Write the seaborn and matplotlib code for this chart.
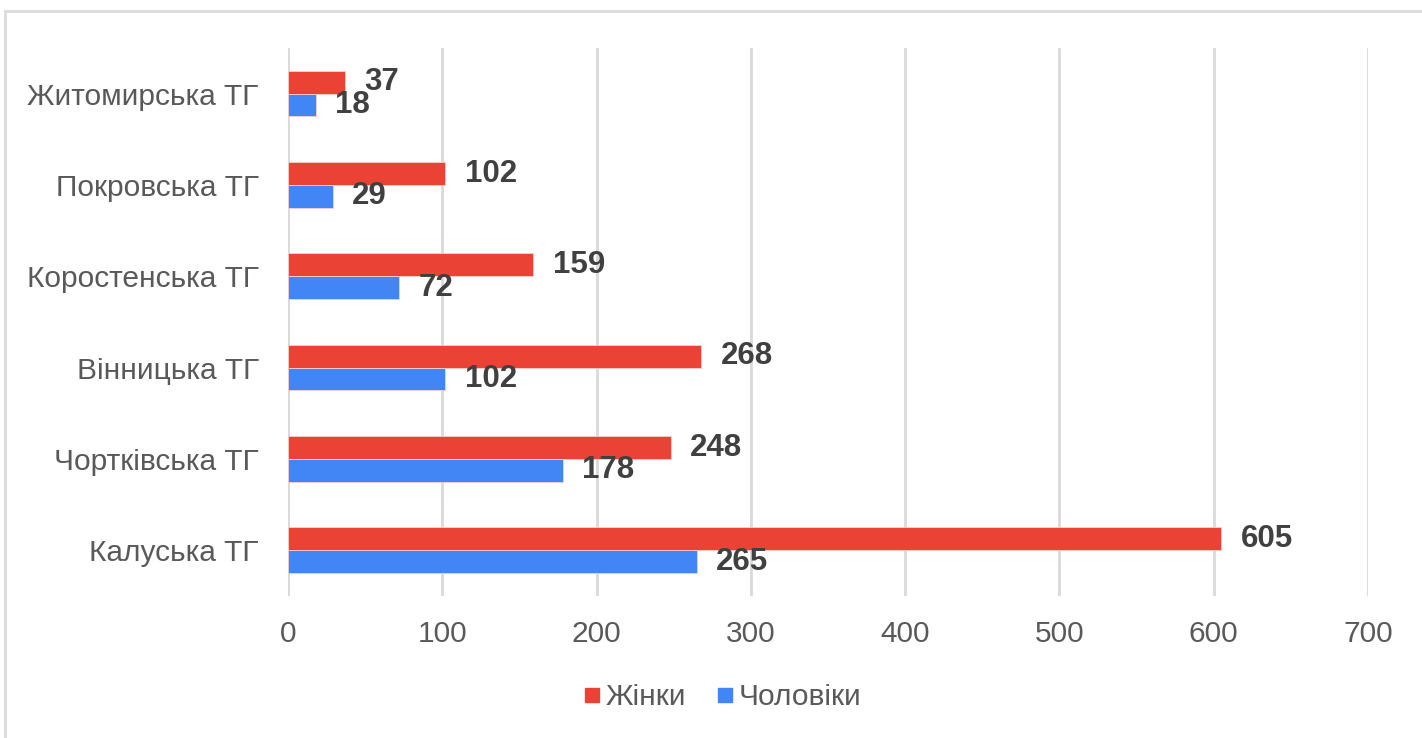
import matplotlib
matplotlib.use("Agg")
import matplotlib.pyplot as plt
import seaborn as sns
import pandas as pd
from matplotlib.lines import Line2D

categories = ["Житомирська ТГ", "Покровська ТГ", "Коростенська ТГ",
              "Вінницька ТГ", "Чортківська ТГ", "Калуська ТГ"]
women = [37, 102, 159, 268, 248, 605]
men = [18, 29, 72, 102, 178, 265]
series_names = ["Жінки", "Чоловіки"]
colors = ["#EA4335", "#4285F4"]
xticks = [0, 100, 200, 300, 400, 500, 600, 700]

df = pd.DataFrame({
    "category": categories * 2,
    "value": women + men,
    "series": [series_names[0]] * len(categories) + [series_names[1]] * len(categories),
})

sns.set_theme(style="white")
plt.rcParams["font.family"] = ["Liberation Sans", "DejaVu Sans"]

fig = plt.figure(figsize=(14.22, 7.38), dpi=100)
ax = fig.add_axes([288 / 1422, 1 - 596 / 738, (1368 - 288) / 1422, (596 - 48) / 738])

sns.barplot(data=df, y="category", x="value", hue="series", order=categories,
            hue_order=series_names, palette=colors, orient="h", width=0.5,
            saturation=1, ax=ax, legend=False, linewidth=0.6, edgecolor="#F8D0CC")

ax.set_xlim(0, 700)
ax.set_xticks(xticks)
ax.set_xlabel("")
ax.set_ylabel("")
ax.grid(axis="x", color="#D9D9D9", linewidth=2)
ax.set_axisbelow(True)
for s in ax.spines.values():
    s.set_visible(False)
ax.tick_params(axis="x", length=0, pad=17, labelsize=21.5, labelcolor="#595959")
ax.tick_params(axis="y", length=0, pad=21, labelsize=21.5, labelcolor="#595959")

for cont in ax.containers:
    ax.bar_label(cont, labels=[f"{int(v)}" for v in cont.datavalues], padding=14,
                 fontsize=22.5, fontweight="bold", color="#404040")

handles = [Line2D([0], [0], marker="s", linestyle="", markersize=9.5,
                  markerfacecolor=c, markeredgecolor=c) for c in colors]
leg = fig.legend(handles, series_names, loc="center", bbox_to_anchor=(0.508, 1 - 697 / 738),
                 ncol=2, frameon=False, fontsize=21.5, handletextpad=0.15,
                 columnspacing=1.0, handlelength=0.6)
for t in leg.get_texts():
    t.set_color("#595959")

# partial frame (top and left border)
fig.add_artist(Line2D([5 / 1422, 1], [1 - 11 / 738, 1 - 11 / 738], transform=fig.transFigure,
                      color="#DDDDDD", linewidth=2.2))
fig.add_artist(Line2D([5 / 1422, 5 / 1422], [0, 1 - 11 / 738], transform=fig.transFigure,
                      color="#DDDDDD", linewidth=2.2))

fig.savefig("out.png", dpi=100, facecolor="white")
